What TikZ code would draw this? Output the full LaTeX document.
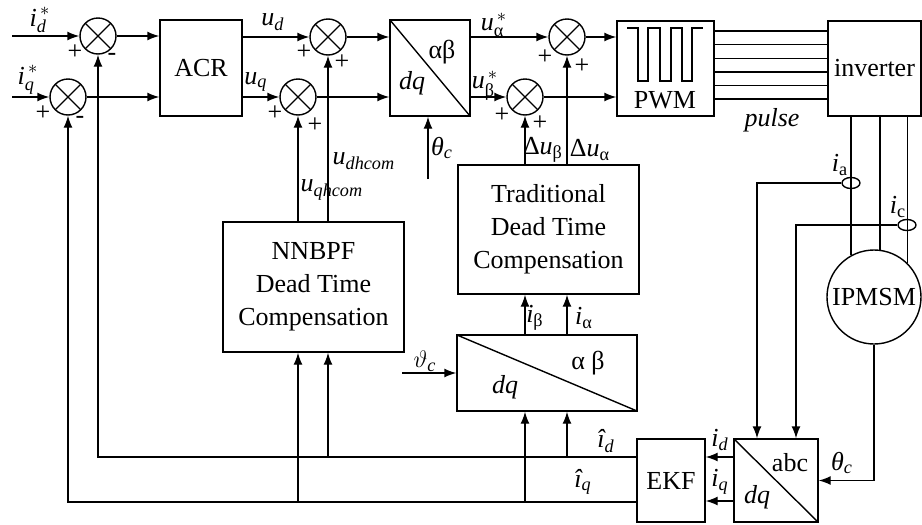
\documentclass[tikz,border=0pt]{standalone}
\usepackage{amsmath}
\usepackage{fontspec}
\setmainfont{Liberation Serif}
\usetikzlibrary{shapes.geometric,arrows.meta}

\begin{document}
\begin{tikzpicture}[x=0.5pt,y=-0.5pt,
  font=\fontsize{13}{16.5}\selectfont,
  line width=0.7pt,
  block/.style={draw, align=center, inner sep=0pt},
  diag/.style={block, path picture={\draw (path picture bounding box.north west) -- (path picture bounding box.south east);}},
  summer/.style={draw, circle, minimum size=18pt, inner sep=0pt,
    path picture={\draw (path picture bounding box.north west) -- (path picture bounding box.south east)
                        (path picture bounding box.north east) -- (path picture bounding box.south west);}},
  sensor/.style={draw, ellipse, minimum width=9pt, minimum height=5.5pt, inner sep=0pt},
  arr/.style={-{Latex[length=6pt,width=4.5pt]}},
  lbl/.style={inner sep=0pt}
]
  \useasboundingbox (0,0) rectangle (922,525);

  % current loop
  \node[summer] (sd) at (98,36) {};
  \node[summer] (sq) at (68,97) {};
  \node[block, minimum width=41pt, minimum height=48pt] (acr) at (201,68) {ACR};
  \node[summer] (sud) at (328,37) {};
  \node[summer] (suq) at (298,97) {};
  \node[diag, minimum width=40pt, minimum height=48pt] (park) at (430,68) {};
  \node[summer] (sua) at (567,37) {};
  \node[summer] (sub) at (525,97) {};
  \node[block, minimum width=48.5pt, minimum height=47.5pt] (pwm) at (665.5,68.5) {};
  \node[block, minimum width=46.5pt, minimum height=47.5pt] (inv) at (874.5,68.5) {inverter};
  \node[draw, circle, minimum size=47pt, inner sep=0pt] (motor) at (874,297) {IPMSM};
  \node[sensor] (sa) at (851,183) {};
  \node[sensor] (sc) at (907,225) {};

  % compensation and observer
  \node[block, minimum width=90.5pt, minimum height=65pt] (nn) at (313.5,287) {NNBPF\\Dead Time\\Compensation};
  \node[block, minimum width=90.5pt, minimum height=64.5pt] (trad) at (548.5,229.5) {Traditional\\Dead Time\\Compensation};
  \node[diag, minimum width=90pt, minimum height=38pt] (park2) at (547,373) {};
  \node[block, minimum width=34pt, minimum height=41.5pt] (ekf) at (671,480.5) {EKF};
  \node[diag, minimum width=42pt, minimum height=41.5pt] (abc) at (776,480.5) {};

  \coordinate (idin) at (12,36);
  \coordinate (iqin) at (12,97);
  \coordinate (thc) at (428,179);
  \coordinate (vthc) at (402,373);

  % forward path
  \draw[arr] (idin) -- (sd.west);
  \draw[arr] (iqin) -- (sq.west);
  \draw[arr] (sd.east) -- (sd.east -| acr.west);
  \draw[arr] (sq.east) -- (sq.east -| acr.west);
  \draw[arr] (acr.east |- sud) -- (sud.west);
  \draw[arr] (acr.east |- suq) -- (suq.west);
  \draw[arr] (sud.east) -- (sud.east -| park.west);
  \draw[arr] (suq.east) -- (suq.east -| park.west);
  \draw[arr] (park.east |- sua) -- (sua.west);
  \draw[arr] (park.east |- sub) -- (sub.west);
  \draw[arr] (sua.east) -- (sua.east -| pwm.west);
  \draw[arr] (sub.east) -- (sub.east -| pwm.west);
  \draw[arr] (thc) -- (park.south -| thc);
  \foreach \yy in {31,44.6,58.2,71.8,85.4,99}
    \draw (pwm.east |- 0,\yy) -- (inv.west |- 0,\yy);
  \draw (627,28) -- (638,28) -- (638,81) -- (648,81) -- (648,28) -- (660,28) -- (660,81) -- (671,81)
        -- (671,28) -- (682,28) -- (682,81) -- (692,81) -- (692,28) -- (703,28);
  \node[lbl] at (665,100) {PWM};

  % motor side
  \draw (inv.south -| motor.119.3) -- (motor.119.3);
  \draw (inv.south -| motor.83.9) -- (motor.83.9);
  \draw (inv.south -| motor.45.4) -- (motor.45.4);
  \draw[arr] (sa.west) -| ([xshift=-9.5pt]abc.north);
  \draw[arr] (sc.west) -| ([xshift=10pt]abc.north);
  \draw[arr] (motor.south) |- (abc.east);
  \draw[arr] (abc.west |- 0,457) -- (ekf.east |- 0,457);
  \draw[arr] (abc.west |- 0,501) -- (ekf.east |- 0,501);

  % feedback and compensation
  \draw[arr] (ekf.west |- 0,457) -| (sd.south);
  \draw[arr] (ekf.west |- 0,502) -| (sq.south);
  \draw[arr] (sua |- 0,457) -- (park2.south -| sua);
  \draw[arr] (sub |- 0,502) -- (park2.south -| sub);
  \draw[arr] (sud |- 0,457) -- (nn.south -| sud);
  \draw[arr] (suq |- 0,502) -- (nn.south -| suq);
  \draw[arr] (vthc) -- (park2.west |- vthc);
  \draw[arr] (park2.north -| sua) -- (trad.south -| sua);
  \draw[arr] (park2.north -| sub) -- (trad.south -| sub);
  \draw[arr] (trad.north -| sua) -- (sua.south);
  \draw[arr] (trad.north -| sub) -- (sub.south);
  \draw[arr] (nn.north -| sud) -- (sud.south);
  \draw[arr] (nn.north -| suq) -- (suq.south);

  % labels
  \node[lbl] at (40,20) {$\textit{i}_{\textit{d}}^{\,*}$};
  \node[lbl] at (28,80) {$\textit{i}_{\textit{q}}^{\,*}$};
  \node[lbl] at (75,52) {+};
  \node[lbl] at (112,57) {-};
  \node[lbl] at (43,113) {+};
  \node[lbl] at (80,120) {-};
  \node[lbl] at (273,22) {$\textit{u}_{\textit{d}}$};
  \node[lbl] at (256,82) {$\textit{u}_{\textit{q}}$};
  \node[lbl] at (304,52) {+};
  \node[lbl] at (342,62) {+};
  \node[lbl] at (275,113) {+};
  \node[lbl] at (315,125) {+};
  \node[lbl] at (442,52) {αβ};
  \node[lbl] at (412,83) {\textit{dq}};
  \node[lbl] at (442,148) {$\textit{θ}_{\textit{c}}$};
  \node[lbl] at (494,25) {$\textit{u}_{\text{α}}^{\,*}$};
  \node[lbl] at (485,86) {$\textit{u}_{\text{β}}^{\,*}$};
  \node[lbl] at (545,57) {+};
  \node[lbl] at (582,66) {+};
  \node[lbl] at (502,115) {+};
  \node[lbl] at (540,123) {+};
  \node[lbl, anchor=west] at (332,161) {$\textit{u}_{\textit{dhcom}}$};
  \node[lbl, anchor=west] at (300,190) {$\textit{u}_{\textit{qhcom}}$};
  \node[lbl] at (543,150) {$\text{Δ}\textit{u}_{\text{β}}$};
  \node[lbl] at (590,150) {$\text{Δ}\textit{u}_{\text{α}}$};
  \node[lbl] at (535,318) {$\textit{i}_{\text{β}}$};
  \node[lbl] at (584,318) {$\textit{i}_{\text{α}}$};
  \node[lbl] at (588,363) {α β};
  \node[lbl] at (505,387) {\textit{dq}};
  \node[lbl] at (425,361) {$\vartheta_{\textit{c}}$};
  \node[lbl] at (606,441) {$\textit{î}_{\textit{d}}$};
  \node[lbl] at (583,482) {$\textit{î}_{\textit{q}}$};
  \node[lbl] at (720,440) {$\textit{i}_{\textit{d}}$};
  \node[lbl] at (720,482) {$\textit{i}_{\textit{q}}$};
  \node[lbl] at (790,463) {abc};
  \node[lbl] at (757,497) {\textit{dq}};
  \node[lbl] at (842,463) {$\textit{θ}_{\textit{c}}$};
  \node[lbl] at (840,165) {$\textit{i}_{\text{a}}$};
  \node[lbl] at (898,207) {$\textit{i}_{\text{c}}$};
  \node[lbl] at (772,120) {\textit{pulse}};
\end{tikzpicture}
\end{document}
